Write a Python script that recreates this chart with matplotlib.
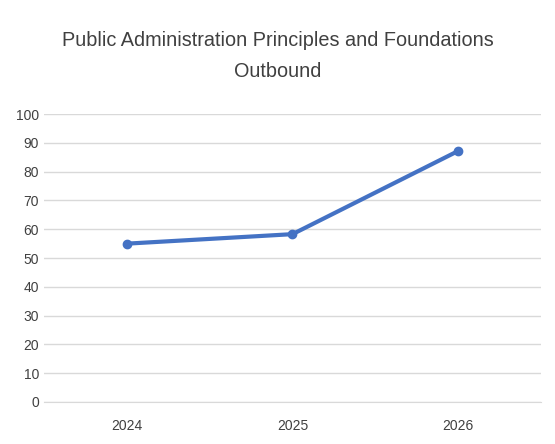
import matplotlib
matplotlib.use("Agg")
import matplotlib.pyplot as plt

years = ["2024", "2025", "2026"]
values = [55.0, 58.3, 87.2]
yticks = list(range(0, 101, 10))

plt.rcParams['font.family'] = ['Liberation Sans', 'DejaVu Sans']
fig = plt.figure(figsize=(5.55, 4.44), dpi=100)
ax = fig.add_axes([0.079, 0.0946, 0.896, 0.6484])
x = list(range(len(years)))
ax.plot(x, values, color="#4472C4", lw=3, marker="o", ms=6)
ax.set_xlim(-0.5, 2.5)
ax.set_ylim(0, 100)
ax.set_yticks(yticks)
ax.set_xticks(x)
ax.set_xticklabels(years)
ax.tick_params(length=0, labelsize=10, colors="#404040")
ax.tick_params(axis="x", pad=12)
ax.grid(axis="y", color="#d9d9d9", lw=1)
ax.set_axisbelow(True)
for s in ["top", "right", "left"]:
    ax.spines[s].set_visible(False)
ax.spines["bottom"].set_color("#d9d9d9")
fig.text(0.5, 0.874, "Public Administration Principles and Foundations\nOutbound",
         ha="center", va="center", fontsize=14.3, color="#404040", linespacing=1.85)
fig.savefig("out.png", dpi=100, facecolor="white")
